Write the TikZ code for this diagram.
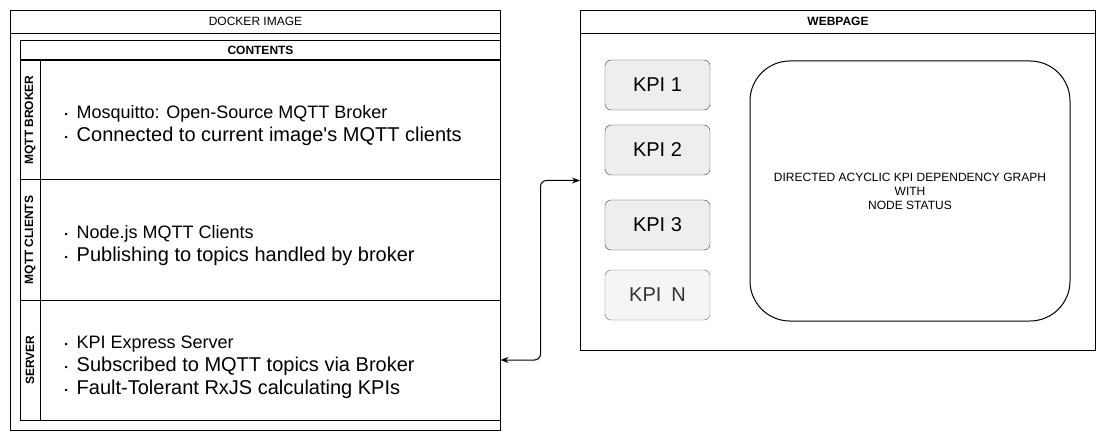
\documentclass[tikz,border=0pt]{standalone}
\usepackage{fontspec}
\setmainfont{Liberation Sans}
\usetikzlibrary{positioning,arrows.meta,calc}

\definecolor{kpifill}{HTML}{EEEEEE}
\definecolor{kpiline}{HTML}{36393D}
\definecolor{kpinfill}{HTML}{F5F5F5}
\definecolor{kpinline}{HTML}{666666}
\definecolor{kpintext}{HTML}{333333}

\newcommand{\itemdot}{\makebox[12pt][l]{\fontsize{9}{9}\selectfont\raisebox{1pt}{\textbullet}}}

\tikzset{
	panel/.style={draw, line width=1pt, inner sep=0pt},
	paneltitle/.style={inner sep=0pt, minimum height=#1, font=\fontsize{12}{14}\selectfont},
	lanelabel/.style={draw, line width=1pt, inner sep=0pt, rotate=90, minimum width=120, minimum height=20, font=\bfseries\fontsize{12}{14}\selectfont},
	lanebody/.style={draw, line width=1pt, inner sep=0pt, minimum width=460, minimum height=120},
	bullets/.style={align=left, inner sep=0pt, anchor=west, font=\fontsize{20}{23}\selectfont},
	kpibox/.style={draw=kpiline, fill=kpifill, rounded corners=6pt, minimum width=105, minimum height=50, inner sep=0pt, font=\fontsize{20}{24}\selectfont},
	kpilast/.style={kpibox, draw=kpinline, fill=kpinfill, text=kpintext}
}

\begin{document}
\begin{tikzpicture}[x=1pt,y=-1pt]
	\useasboundingbox (0,0) rectangle (1106,441);
	% docker image
	\node[panel, minimum width=490, minimum height=420, anchor=north west] (docker) at (10,10) {};
	\node[paneltitle=23, below=0pt of docker.north] (dockertitle) {DOCKER IMAGE};
	\draw[line width=1pt] (dockertitle.south -| docker.west) -- (dockertitle.south -| docker.east);
	\node[panel, minimum width=480, minimum height=380, anchor=north west] (contents) at (20,40) {};
	\node[paneltitle=20, font=\bfseries\fontsize{12}{14}\selectfont, below=0pt of contents.north] (contentstitle) {CONTENTS};
	\draw[line width=1pt] (contentstitle.south -| contents.west) -- (contentstitle.south -| contents.east);
	\foreach \name/\label/\y in {broker/MQTT BROKER/120, clients/MQTT CLIENTS/240, server/SERVER/360}{
		\node[lanelabel] (\name label) at (30,\y) {\label};
		\node[lanebody] (\name) at (270,\y) {};
	}
	\node[bullets] (brokertext) at ($(broker.west)+(25,6)$) {{\fontsize{18}{23}\selectfont\itemdot Mosquitto: Open-Source MQTT Broker}\\ \itemdot Connected to current image\textquotesingle s MQTT clients};
	\node[bullets] (clientstext) at ($(clients.west)+(25,6)$) {{\fontsize{18}{23}\selectfont\itemdot Node.js MQTT Clients}\\ \itemdot Publishing to topics handled by broker};
	\node[bullets] (servertext) at ($(server.west)+(25,7)$) {{\fontsize{18}{23}\selectfont\itemdot KPI Express Server}\\ \itemdot Subscribed to MQTT topics via Broker\\ \itemdot Fault-Tolerant RxJS calculating KPIs};
	% webpage
	\node[panel, minimum width=515, minimum height=340, anchor=north west] (webpage) at (580,10) {};
	\node[paneltitle=23, font=\bfseries\fontsize{12}{14}\selectfont, below=0pt of webpage.north] (webpagetitle) {WEBPAGE};
	\draw[line width=1pt] (webpagetitle.south -| webpage.west) -- (webpagetitle.south -| webpage.east);
	\node[kpibox] (kpi1) at (657.5,85) {KPI 1};
	\node[kpibox] (kpi2) at (657.5,150) {KPI 2};
	\node[kpibox] (kpi3) at (657.5,225) {KPI 3};
	\node[kpilast] (kpin) at (657.5,295) {KPI\hspace{0.5em}N};
	\node[draw, line width=1pt, rounded corners=40pt, minimum width=320, minimum height=260, align=center, font=\fontsize{12}{14}\selectfont] (graph) at (910,191) {DIRECTED ACYCLIC KPI DEPENDENCY GRAPH\\WITH\\NODE STATUS};
	% link
	\draw[{Stealth[length=8pt,width=6pt]}-{Stealth[length=8pt,width=6pt]}, line width=1pt, rounded corners=6pt] (server.east) -- ++(40,0) |- (webpage.west);
\end{tikzpicture}
\end{document}
